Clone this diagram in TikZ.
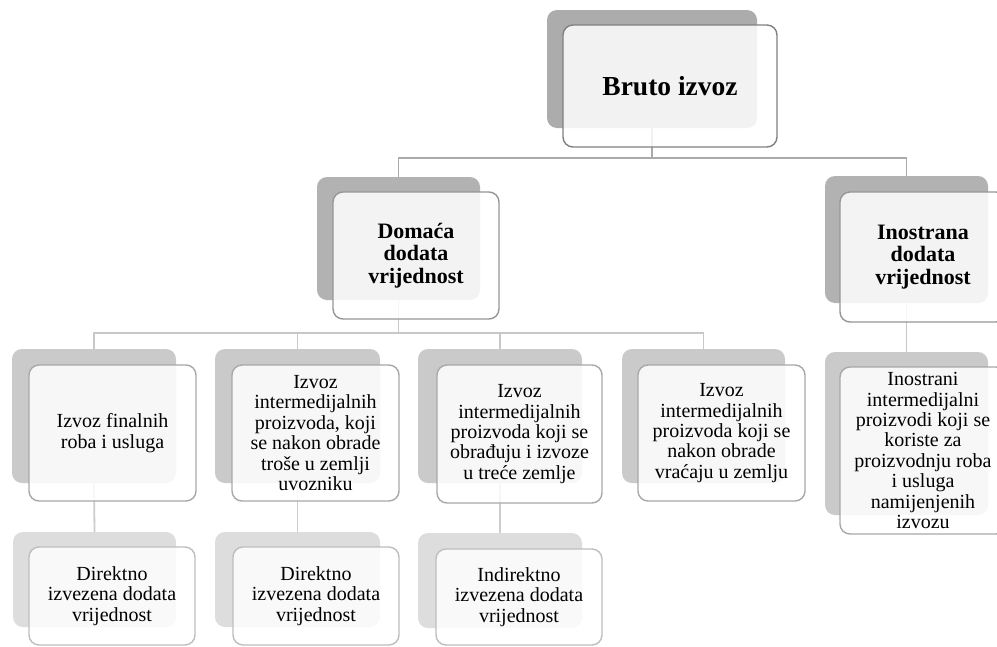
\documentclass[tikz,border=0pt]{standalone}
\usepackage{fontspec}
\setmainfont{Liberation Serif}
\definecolor{sh1}{RGB}{172,172,172}
\definecolor{sh2}{RGB}{178,178,178}
\definecolor{sh3}{RGB}{202,202,202}
\definecolor{sh4}{RGB}{221,221,221}
\definecolor{bd1}{RGB}{128,128,128}
\definecolor{bd2}{RGB}{150,150,150}
\definecolor{bd3}{RGB}{168,168,168}
\definecolor{bd4}{RGB}{190,190,190}
\definecolor{cn1}{RGB}{170,170,170}
\definecolor{cn2}{RGB}{200,200,200}
\definecolor{cn3}{RGB}{205,205,205}
\begin{document}
\begin{tikzpicture}[x=1pt,y=-1pt,
  shad/.style={rectangle, rounded corners=10pt, inner sep=0pt, outer sep=0pt, fill=#1},
  front/.style={rectangle, rounded corners=10pt, draw=#1, line width=1.4pt, fill=white,
    fill opacity=0.85, text opacity=1, align=center, inner sep=0pt, outer sep=0pt},
  conn/.style={draw=#1, line width=1.8pt},
  txtA/.style={font=\fontsize{27.5}{30}\selectfont\bfseries},
  txtB/.style={font=\fontsize{22}{22.3}\selectfont\bfseries},
  txtC/.style={font=\fontsize{20}{20.4}\selectfont},
]
\useasboundingbox (0,0) rectangle (997,646);
\clip (0,0) rectangle (997,646);
\fill[white] (0,0) rectangle (997,646);

% shadow nodes
\node[shad=sh1, minimum width=210, minimum height=118] (topS) at (652,69) {};
\node[shad=sh2, minimum width=163, minimum height=123] (domS) at (398.5,238.5) {};
\node[shad=sh2, minimum width=163, minimum height=127] (inoS) at (906.5,239.5) {};
\node[shad=sh3, minimum width=164, minimum height=134] (aS) at (94,416) {};
\node[shad=sh3, minimum width=165, minimum height=134] (bS) at (297.5,416) {};
\node[shad=sh3, minimum width=164, minimum height=134] (cS) at (500,416) {};
\node[shad=sh3, minimum width=163, minimum height=134] (dS) at (703.5,416) {};
\node[shad=sh3, minimum width=163, minimum height=163] (eS) at (906.5,433.5) {};
\node[shad=sh4, minimum width=163, minimum height=95] (fS) at (94.5,579.5) {};
\node[shad=sh4, minimum width=165, minimum height=95] (gS) at (297.5,579.5) {};
\node[shad=sh4, minimum width=164, minimum height=95] (hS) at (500,580.5) {};

% connectors
\coordinate (j1) at (652,158);
\coordinate (j2) at (398.5,333);
\draw[conn=cn1] (topS.south) -- (j1) -| (domS.north);
\draw[conn=cn1] (j1) -| (inoS.north);
\draw[conn=cn2] (domS.south) -- (j2) -| (aS.north);
\draw[conn=cn2] (j2) -| (bS.north);
\draw[conn=cn2] (j2) -| (cS.north);
\draw[conn=cn2] (j2) -| (dS.north);
\draw[conn=cn2] (inoS.south) -- (eS.north);
\draw[conn=cn3] (aS.south) -- (fS.north);
\draw[conn=cn3] (bS.south) -- (gS.north);
\draw[conn=cn3] (cS.south) -- (hS.north);

% front nodes
\node[front=bd1, txtA, minimum width=214, minimum height=122] (top) at (670,86) {Bruto izvoz};
\node[front=bd2, txtB, minimum width=166, minimum height=127] (dom) at (416,255.5) {Domaća\\dodata\\vrijednost};
\node[front=bd2, txtB, minimum width=166, minimum height=130] (ino) at (923,257) {Inostrana\\dodata\\vrijednost};
\node[front=bd3, txtC, minimum width=167, minimum height=136] (a) at (112.5,433) {Izvoz finalnih\\roba i usluga};
\node[front=bd3, txtC, minimum width=167, minimum height=136] (b) at (315.5,433) {Izvoz\\intermedijalnih\\proizvoda, koji\\se nakon obrade\\troše u zemlji\\uvozniku};
\node[front=bd3, txtC, minimum width=165, minimum height=138] (c) at (519.5,434) {Izvoz\\intermedijalnih\\proizvoda koji se\\obrađuju i izvoze\\u treće zemlje};
\node[front=bd3, txtC, minimum width=167, minimum height=136] (d) at (721.5,433) {Izvoz\\intermedijalnih\\proizvoda koji se\\nakon obrade\\vraćaju u zemlju};
\node[front=bd3, txtC, minimum width=166, minimum height=167] (e) at (923,450.5) {Inostrani\\intermedijalni\\proizvodi koji se\\koriste za\\proizvodnju roba\\i usluga\\namijenjenih\\izvozu};
\node[front=bd4, txtC, minimum width=166, minimum height=98] (f) at (112,596) {Direktno\\izvezena dodata\\vrijednost};
\node[front=bd4, txtC, minimum width=166, minimum height=98] (g) at (316,596) {Direktno\\izvezena dodata\\vrijednost};
\node[front=bd4, txtC, minimum width=166, minimum height=96] (h) at (519,597) {Indirektno\\izvezena dodata\\vrijednost};
\end{tikzpicture}
\end{document}
